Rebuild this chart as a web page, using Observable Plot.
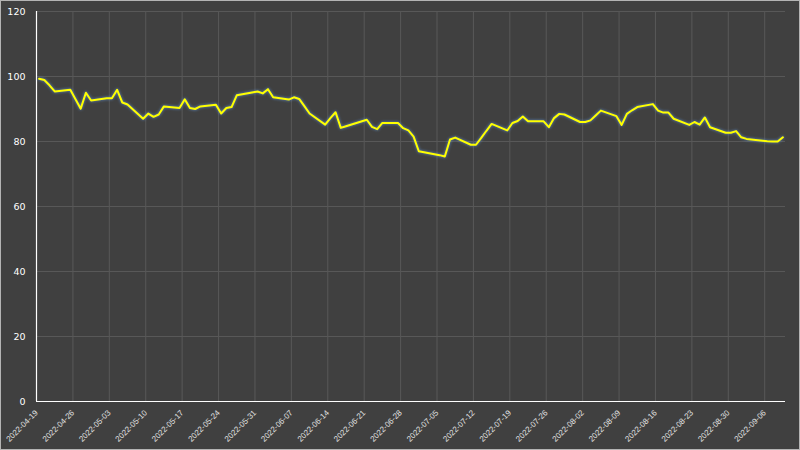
<!DOCTYPE html>
<html><head><meta charset="utf-8">
<script src="https://cdn.jsdelivr.net/npm/d3@7"></script>
<script src="https://cdn.jsdelivr.net/npm/@observablehq/plot@0.6"></script>
<style>
html,body{margin:0;padding:0;background:#404040;}
#chart svg{display:block;outline:1px solid #b4b4b4;outline-offset:-1px;}
</style>
</head><body><div id="chart"></div>
<script>
const dates = [
"2022-04-19","2022-04-20","2022-04-21","2022-04-22","2022-04-25","2022-04-26","2022-04-27","2022-04-28","2022-04-29",
"2022-05-02","2022-05-03","2022-05-04","2022-05-05","2022-05-06","2022-05-09","2022-05-10","2022-05-11","2022-05-12","2022-05-13",
"2022-05-16","2022-05-17","2022-05-18","2022-05-19","2022-05-20","2022-05-23","2022-05-24","2022-05-25","2022-05-26","2022-05-27",
"2022-05-31","2022-06-01","2022-06-02","2022-06-03","2022-06-06","2022-06-07","2022-06-08","2022-06-09","2022-06-10",
"2022-06-13","2022-06-14","2022-06-15","2022-06-16","2022-06-17","2022-06-21","2022-06-22","2022-06-23","2022-06-24",
"2022-06-27","2022-06-28","2022-06-29","2022-06-30","2022-07-01","2022-07-05","2022-07-06","2022-07-07","2022-07-08",
"2022-07-11","2022-07-12","2022-07-13","2022-07-14","2022-07-15","2022-07-18","2022-07-19","2022-07-20","2022-07-21","2022-07-22",
"2022-07-25","2022-07-26","2022-07-27","2022-07-28","2022-07-29","2022-08-01","2022-08-02","2022-08-03","2022-08-04","2022-08-05",
"2022-08-08","2022-08-09","2022-08-10","2022-08-11","2022-08-12","2022-08-15","2022-08-16","2022-08-17","2022-08-18","2022-08-19",
"2022-08-22","2022-08-23","2022-08-24","2022-08-25","2022-08-26","2022-08-29","2022-08-30","2022-08-31","2022-09-01","2022-09-02",
"2022-09-06","2022-09-07","2022-09-08","2022-09-09"
];
const values = [
99.3,98.9,97.3,95.4,95.9,93.0,90.1,95.0,92.6,
93.3,93.3,95.9,92.0,91.4,87.0,88.6,87.6,88.3,90.8,
90.3,93.0,90.3,90.0,90.8,91.3,88.6,90.3,90.6,94.2,
95.4,94.8,96.1,93.6,92.9,93.6,93.1,90.9,88.6,
85.2,87.2,89.0,84.2,84.7,86.7,84.5,83.8,85.7,
85.7,84.1,83.4,81.5,77.0,75.8,75.4,80.6,81.2,
79.0,79.0,81.1,83.3,85.4,83.4,85.7,86.3,87.7,86.2,
86.2,84.4,87.2,88.5,88.3,86.0,86.0,86.5,88.0,89.5,
87.8,85.1,88.5,89.6,90.6,91.5,89.5,88.9,88.9,87.0,
85.1,86.0,85.2,87.4,84.4,82.7,82.7,83.2,81.3,80.8,
80.1,80.0,80.0,81.3
];
const yTicks = [0,20,40,60,80,100,120];
const xTickLabels = [
"2022-04-19","2022-04-26","2022-05-03","2022-05-10","2022-05-17","2022-05-24","2022-05-31",
"2022-06-07","2022-06-14","2022-06-21","2022-06-28","2022-07-05","2022-07-12","2022-07-19",
"2022-07-26","2022-08-02","2022-08-09","2022-08-16","2022-08-23","2022-08-30","2022-09-06"
];
const xDomain = ["2022-04-19","2022-09-10"];

const parse = d3.utcParse("%Y-%m-%d");
const data = dates.map((d, i) => ({date: d3.utcHour.offset(parse(d), 12), value: values[i]}));
const xTicks = xTickLabels.map(parse);
const fmt = d3.utcFormat("%Y-%m-%d");

const chart = Plot.plot({
  width: 800,
  height: 450,
  marginLeft: 36,
  marginRight: 15,
  marginTop: 11,
  marginBottom: 49,
  style: {background: "#404040", color: "#ffffff", fontFamily: "DejaVu Sans, sans-serif"},
  x: {type: "utc", domain: xDomain.map(parse)},
  y: {domain: [0, 120]},
  marks: [
    Plot.gridY(yTicks, {stroke: "#585858", strokeOpacity: 1}),
    Plot.gridX(xTicks, {stroke: "#585858", strokeOpacity: 1}),
    Plot.axisY(yTicks, {tickSize: 0, tickPadding: 11, fontSize: 9.5, fill: "#ffffff", label: null}),
    Plot.axisX(xTicks, {tickSize: 0, tickPadding: 10, tickRotate: -45, fontSize: 8, fontFamily: "Liberation Sans, Arial, sans-serif", fill: "#e0e0e0", tickFormat: fmt, label: null}),
    Plot.ruleX([parse(xDomain[0])], {stroke: "#ffffff", strokeWidth: 1.2}),
    Plot.ruleY([0], {stroke: "#ffffff", strokeWidth: 1.2}),
    Plot.lineY(data, {x: "date", y: "value", stroke: "#ffff00", strokeWidth: 2})
  ]
});
chart.querySelectorAll('g[aria-label="line"] path').forEach(p => {
  p.style.filter = "drop-shadow(0 0 1.5px rgba(95,150,220,0.9))";
});
document.getElementById("chart").appendChild(chart);
</script>
</body></html>
